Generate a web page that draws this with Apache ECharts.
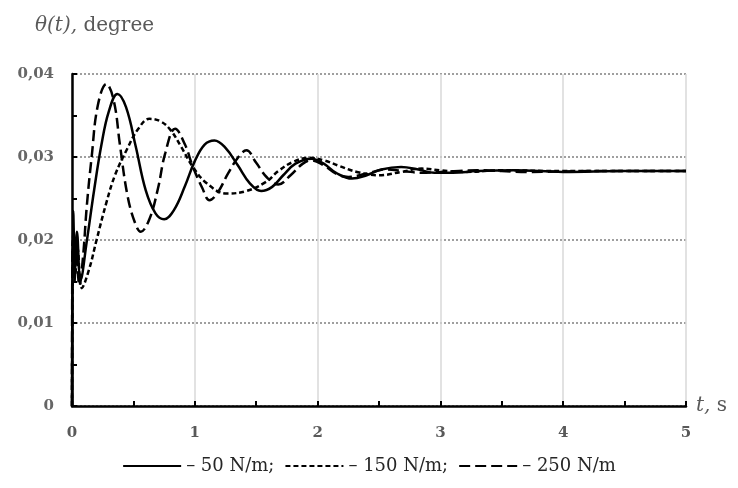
<!DOCTYPE html>
<html>
<head>
<meta charset="utf-8">
<script src="https://cdn.jsdelivr.net/npm/echarts@6/dist/echarts.min.js"></script>
<style>html,body{margin:0;padding:0;background:#fff}#c{width:738px;height:488px}</style>
</head>
<body>
<div id="c"></div>
<script>
// ---- data ----
var seriesNames = ['– 50 N/m;', '– 150 N/m;', '– 250 N/m'];
var xTicks = [0, 1, 2, 3, 4, 5];
var yTicks = [0, 0.01, 0.02, 0.03, 0.04];

var t50 = [0, 0.01, 0.025, 0.04, 0.07, 0.12, 0.18, 0.24, 0.3, 0.37, 0.44, 0.52, 0.6, 0.68, 0.75, 0.83, 0.92, 1.0, 1.08, 1.16, 1.25, 1.35, 1.45, 1.54, 1.63, 1.72, 1.82, 1.95, 2.05, 2.15, 2.28, 2.4, 2.52, 2.68, 2.82, 2.95, 3.1, 3.3, 3.6, 4.0, 4.5, 5.0];
var v50 = [0, 0.0235, 0.0165, 0.021, 0.0152, 0.0198, 0.0260, 0.0315, 0.0355, 0.0376, 0.0360, 0.0312, 0.0260, 0.0232, 0.0225, 0.0236, 0.0265, 0.0295, 0.0315, 0.0320, 0.0311, 0.0290, 0.0268, 0.0259, 0.0264, 0.0278, 0.0292, 0.0298, 0.0292, 0.0281, 0.0274, 0.0278, 0.0285, 0.0288, 0.0285, 0.0281, 0.0281, 0.0283, 0.0284, 0.0282, 0.0283, 0.0283];

var t150 = [0, 0.012, 0.028, 0.045, 0.08, 0.14, 0.2, 0.28, 0.35, 0.45, 0.54, 0.63, 0.72, 0.8, 0.89, 0.98, 1.1, 1.26, 1.42, 1.58, 1.68, 1.8, 1.93, 2.05, 2.18, 2.32, 2.5, 2.68, 2.85, 3.0, 3.2, 3.5, 4.0, 4.5, 5.0];
var v150 = [0, 0.021, 0.016, 0.019, 0.0142, 0.0165, 0.0200, 0.0245, 0.0278, 0.0310, 0.0334, 0.0346, 0.0343, 0.0333, 0.0312, 0.0289, 0.0268, 0.0256, 0.0259, 0.0270, 0.0283, 0.0294, 0.0299, 0.0296, 0.0289, 0.0282, 0.0278, 0.0282, 0.0286, 0.0284, 0.0282, 0.0284, 0.0283, 0.0283, 0.0283];

var t250 = [0, 0.006, 0.02, 0.035, 0.06, 0.09, 0.12, 0.16, 0.21, 0.28, 0.34, 0.39, 0.45, 0.51, 0.56, 0.63, 0.7, 0.76, 0.84, 0.92, 0.98, 1.06, 1.12, 1.19, 1.27, 1.36, 1.42, 1.5, 1.59, 1.68, 1.78, 1.88, 1.95, 2.05, 2.15, 2.25, 2.4, 2.55, 2.7, 2.85, 3.0, 3.3, 3.7, 4.2, 5.0];
var v250 = [0, 0.020, 0.015, 0.0195, 0.0145, 0.018, 0.0240, 0.0300, 0.0362, 0.0388, 0.0368, 0.0315, 0.0255, 0.0222, 0.0210, 0.0225, 0.0262, 0.0305, 0.0334, 0.0315, 0.0290, 0.0263, 0.0248, 0.0258, 0.0280, 0.0301, 0.0308, 0.0293, 0.0275, 0.0267, 0.0278, 0.0292, 0.0296, 0.0290, 0.0280, 0.0276, 0.0280, 0.0285, 0.0283, 0.0281, 0.0282, 0.0284, 0.0282, 0.0283, 0.0283];

function zip(a, b) { return a.map(function (x, i) { return [x, b[i]]; }); }

var serif = '"DejaVu Serif", "Liberation Serif", serif';
var chart = echarts.init(document.getElementById('c'));
var lineTypes = ['solid', [5, 3], [11, 5]];
var datas = [zip(t50, v50), zip(t150, v150), zip(t250, v250)];

chart.setOption({
  animation: false,
  title: {
    text: '{i|θ(t),} {n|degree}',
    left: 30, top: 11,
    textStyle: {
      fontFamily: serif, fontSize: 20, fontWeight: 'normal', color: '#595959',
      rich: {
        i: { fontFamily: serif, fontStyle: 'italic', fontWeight: 'normal', fontSize: 20, color: '#595959' },
        n: { fontFamily: serif, fontWeight: 'normal', fontSize: 20, color: '#595959' }
      }
    }
  },
  grid: { left: 72, right: 52, top: 74, bottom: 82, containLabel: false },
  legend: {
    bottom: 8, left: 'center',
    itemWidth: 58, itemHeight: 14, itemGap: 10,
    itemStyle: { opacity: 0 },
    textStyle: { fontFamily: serif, fontSize: 18, color: '#262626' },
    data: seriesNames
  },
  xAxis: {
    type: 'value', min: 0, max: 5, interval: 1,
    name: '{i|t,} {n|s}', nameLocation: 'end', nameGap: 10,
    nameTextStyle: {
      fontFamily: serif, fontSize: 20, color: '#595959',
      rich: {
        i: { fontFamily: serif, fontStyle: 'italic', fontSize: 20, color: '#595959' },
        n: { fontFamily: serif, fontSize: 20, color: '#595959' }
      }
    },
    axisLine: { lineStyle: { color: '#000', width: 2.5 } },
    axisTick: { inside: true, length: 5, lineStyle: { color: '#000', width: 2 } },
    minorTick: { show: true, splitNumber: 2, length: 5, lineStyle: { color: '#000', width: 2 } },
    axisLabel: {
      fontFamily: serif, fontWeight: 'bold', fontSize: 15, color: '#595959', margin: 20,
      formatter: function (v) { return xTicks.indexOf(v) >= 0 ? String(v) : ''; }
    },
    splitLine: { show: true, lineStyle: { color: '#d9d9d9', width: 1.5 } }
  },
  yAxis: {
    type: 'value', min: 0, max: 0.04, interval: 0.01,
    axisLine: { show: true, lineStyle: { color: '#000', width: 2.5 } },
    axisTick: { show: true, inside: true, length: 5, lineStyle: { color: '#000', width: 2 } },
    minorTick: { show: true, splitNumber: 2, length: 5, lineStyle: { color: '#000', width: 2 } },
    axisLabel: {
      fontFamily: serif, fontWeight: 'bold', fontSize: 15, color: '#666666', margin: 18,
      formatter: function (v) {
        var r = Math.round(v * 100) / 100;
        return yTicks.indexOf(r) < 0 ? '' : (r === 0 ? '0' : r.toFixed(2).replace('.', ','));
      }
    },
    splitLine: { show: true, lineStyle: { color: '#808080', width: 1.5, type: [2, 2] } }
  },
  series: seriesNames.map(function (n, i) {
    return {
      name: n, type: 'line', data: datas[i], smooth: 0.4,
      showSymbol: false, symbol: 'none',
      lineStyle: { color: '#000', width: 2.5, type: lineTypes[i] },
      itemStyle: { color: '#000' },
      z: 3 - i
    };
  })
});
</script>
</body>
</html>
